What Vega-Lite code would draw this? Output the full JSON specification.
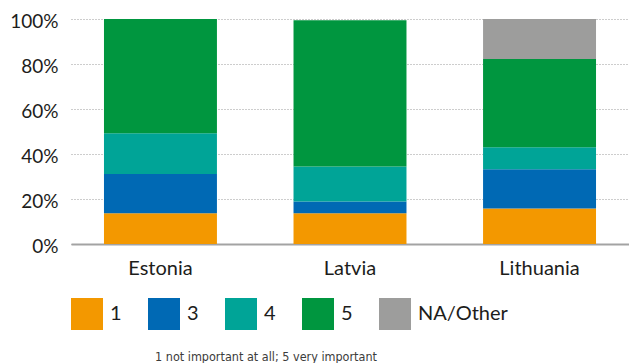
{
  "$schema": "https://vega.github.io/schema/vega-lite/v6.json",
  "autosize": {"type": "none"},
  "width": 558,
  "height": 225,
  "padding": {"left": 71, "top": 19, "right": 0, "bottom": 119},
  "background": "white",
  "data": {
    "values": [
      {"country": "Estonia", "rating": "1", "share": 13.7},
      {"country": "Estonia", "rating": "3", "share": 17.4},
      {"country": "Estonia", "rating": "4", "share": 18.1},
      {"country": "Estonia", "rating": "5", "share": 50.8},
      {"country": "Latvia", "rating": "1", "share": 13.7},
      {"country": "Latvia", "rating": "3", "share": 5.2},
      {"country": "Latvia", "rating": "4", "share": 15.6},
      {"country": "Latvia", "rating": "5", "share": 65.0},
      {"country": "Lithuania", "rating": "1", "share": 15.8},
      {"country": "Lithuania", "rating": "3", "share": 17.4},
      {"country": "Lithuania", "rating": "4", "share": 9.8},
      {"country": "Lithuania", "rating": "5", "share": 39.2},
      {"country": "Lithuania", "rating": "NA/Other", "share": 17.8}
    ]
  },
  "mark": {"type": "bar"},
  "encoding": {
    "x": {
      "field": "country",
      "type": "nominal",
      "sort": ["Estonia", "Latvia", "Lithuania"],
      "scale": {"paddingInner": 0.404, "paddingOuter": 0.174},
      "axis": {
        "title": "1 not important at all; 5 very important",
        "titleFont": "DejaVu Sans Condensed",
        "titleFontSize": 12.5,
        "titleFontWeight": "normal",
        "titleColor": "#3c3c3b",
        "titleBaseline": "alphabetic",
        "titleAnchor": "start",
        "titleAlign": "center",
        "titleX": 194.5,
        "titleY": 116,
        "labelAngle": 0,
        "labelFont": "Lato",
        "labelFontSize": 20,
        "labelColor": "#1d1d1b",
        "labelPadding": 14,
        "ticks": false,
        "domainColor": "#a3a3a3",
        "domainWidth": 2,
        "grid": false
      }
    },
    "y": {
      "field": "share",
      "type": "quantitative",
      "stack": "zero",
      "scale": {"domain": [0, 100], "nice": false},
      "axis": {
        "title": null,
        "values": [0, 20, 40, 60, 80, 100],
        "labelExpr": "datum.value + '%'",
        "labelFont": "Lato",
        "labelFontSize": 19,
        "labelColor": "#1d1d1b",
        "labelPadding": 13,
        "labelOffset": 2.5,
        "ticks": false,
        "domain": false,
        "grid": true,
        "gridColor": "#9a9a9a",
        "gridDash": [1, 2],
        "gridWidth": 1
      }
    },
    "order": {"field": "rating", "sort": "ascending"},
    "color": {
      "field": "rating",
      "type": "nominal",
      "scale": {
        "domain": ["1", "3", "4", "5", "NA/Other"],
        "range": ["#f39800", "#0069b4", "#00a497", "#00963f", "#9d9d9c"]
      },
      "legend": {
        "title": null,
        "orient": "none",
        "direction": "horizontal",
        "legendX": 0,
        "legendY": 279,
        "padding": 0,
        "symbolType": "square",
        "symbolSize": 1024,
        "symbolStrokeWidth": 0,
        "symbolOpacity": 1,
        "labelFont": "Lato",
        "labelFontSize": 20,
        "labelColor": "#1d1d1b",
        "labelOffset": 7,
        "columnPadding": 26
      }
    }
  },
  "config": {
    "view": {"stroke": null}
  }
}
